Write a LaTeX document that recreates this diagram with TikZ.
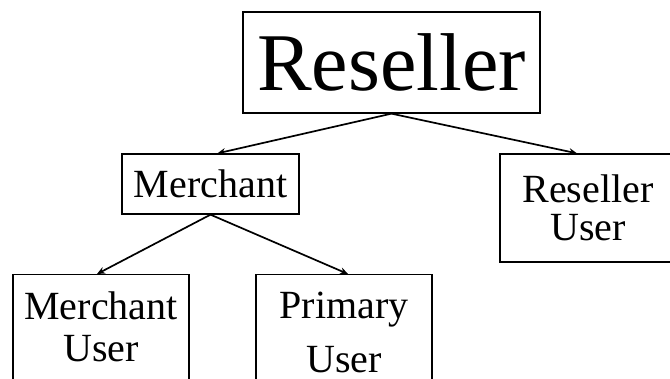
\documentclass[tikz,border=0pt]{standalone}
\usepackage{fontspec}
\setmainfont{Liberation Serif}
\usetikzlibrary{arrows.meta,positioning}

\begin{document}
\begin{tikzpicture}[x=1pt,y=-1pt,
        box/.style={draw,line width=1.3pt,rectangle,inner sep=0pt,align=center},
        small/.style={font=\fontsize{40}{42}\selectfont},
        link/.style={line width=1.7pt,-{Stealth[length=8pt,width=7pt]}}]
        \useasboundingbox (0,0) rectangle (670,379);
        \clip (0,0) rectangle (670,379);

        \node[box,minimum width=297pt,minimum height=101pt,
              font=\fontsize{82}{90}\selectfont] (reseller) at (391.5,62.5) {Reseller};
        \node[box,small,minimum width=177pt,minimum height=60pt] (merchant) at (210.5,184) {Merchant};
        \node[box,small,minimum width=176pt,minimum height=108pt,
              font=\fontsize{40}{38}\selectfont] (reseller user) at (588,208) {Reseller\\User};

        \node[box,small,anchor=north,minimum width=176pt,inner ysep=17pt,text depth=60pt]
                (merchant user) at (101,274) {Merchant\\User};
        \node[box,small,anchor=north,minimum width=176pt,inner ysep=17pt,text depth=60pt]
                (primary user) at (344,274) {Primary\\[12pt]User};

        \path (reseller.south) edge [link] ([xshift=7pt]merchant.north)
                               edge [link] ([xshift=-11pt]reseller user.north);
        \path (merchant.south) edge [link] ([xshift=-4pt]merchant user.north)
                               edge [link] ([xshift=4pt]primary user.north);
\end{tikzpicture}
\end{document}
